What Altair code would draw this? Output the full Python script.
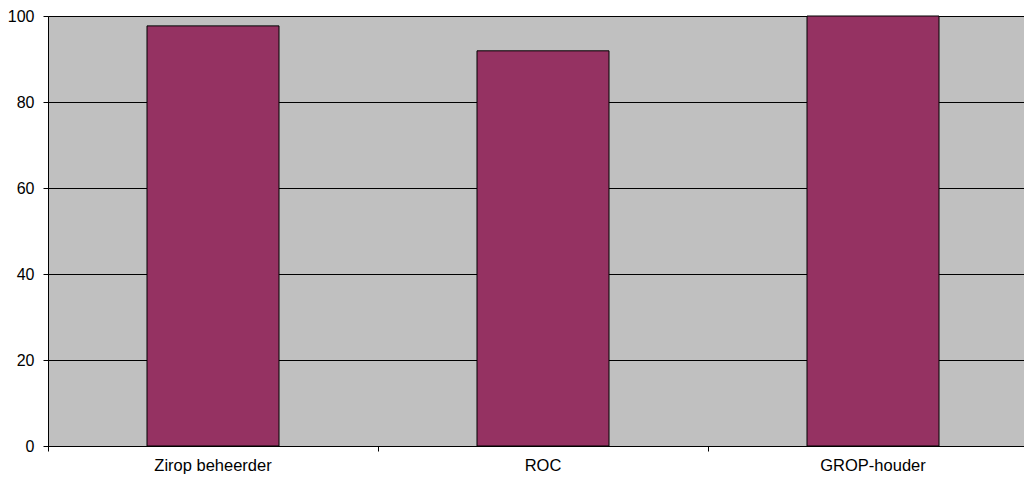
import altair as alt
import pandas as pd

categories = ["Zirop beheerder", "ROC", "GROP-houder"]
values = [97.7, 91.9, 100]

df = pd.DataFrame({"cat": categories, "val": values})

chart = alt.Chart(df).mark_bar(
    color="#953262", stroke="#000000", strokeWidth=1, width={"band": 0.4}
).encode(
    x=alt.X("cat:N", sort=categories, title=None,
            scale=alt.Scale(paddingInner=0, paddingOuter=0, range=[0, 990]),
            axis=alt.Axis(labelAngle=0, bandPosition=0, tickSize=5, tickColor="#000000",
                          domainColor="#000000", labelFontSize=16.5, labelColor="#000000",
                          labelFont="Liberation Sans", labelPadding=6, grid=False)),
    y=alt.Y("val:Q", title=None,
            scale=alt.Scale(domain=[0, 100], nice=False),
            axis=alt.Axis(values=[0, 20, 40, 60, 80, 100], tickSize=5, tickColor="#000000",
                          domainColor="#000000", labelFontSize=16, labelColor="#000000",
                          labelFont="Liberation Sans", labelPadding=9,
                          grid=True, gridColor="#000000", gridOpacity=1, gridWidth=1)),
).properties(
    width=976, height=430,
    background="#FFFFFF",
    autosize=alt.AutoSizeParams(type="none"),
    padding={"left": 40, "top": 8, "right": 0, "bottom": 28},
).configure_view(
    fill="#C0C0C0", stroke="#808080", strokeWidth=1
)

chart.save("out.html", embed_options={"renderer": "svg", "actions": False})
